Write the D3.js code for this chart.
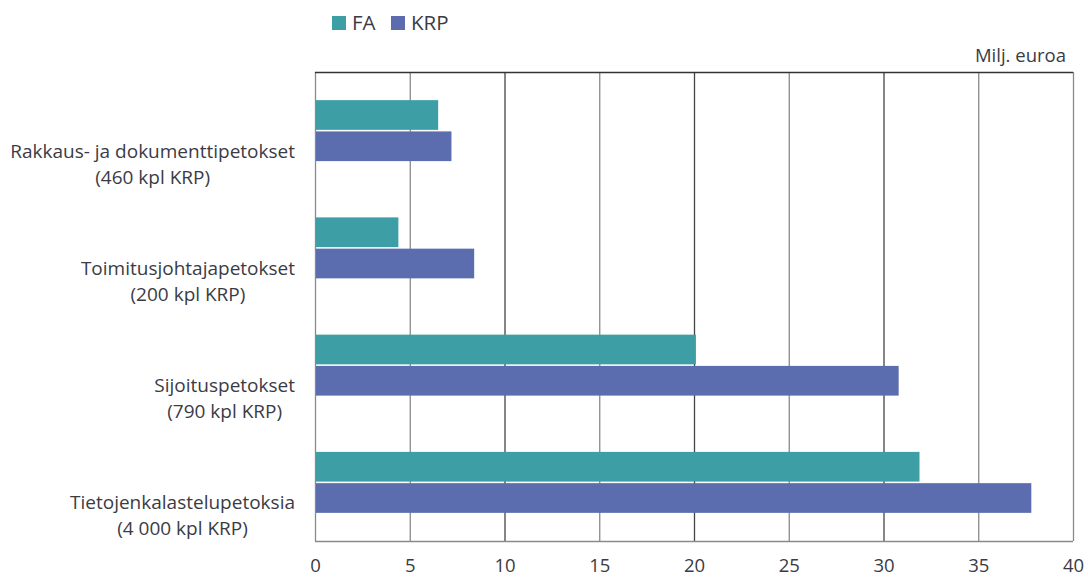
<!DOCTYPE html>
<html lang="fi">
<head>
<meta charset="utf-8">
<title>Petokset</title>
<script src="https://d3js.org/d3.v7.min.js"></script>
<style>
  body { margin: 0; background: #fff; }
  text { font-family: "Open Sans", sans-serif; fill: #3b3b45; }
</style>
</head>
<body>
<script>
// data
var categories = ["Rakkaus- ja dokumenttipetokset", "Toimitusjohtajapetokset", "Sijoituspetokset", "Tietojenkalastelupetoksia"];
var subLabels = ["(460 kpl KRP)", "(200 kpl KRP)", "(790 kpl KRP)", "(4 000 kpl KRP)"];
var series = ["FA", "KRP"];
var faValues = [6.5, 4.4, 20.1, 31.9];
var krpValues = [7.2, 8.4, 30.8, 37.8];
var xTicks = [0, 5, 10, 15, 20, 25, 30, 35, 40];
var colors = ["#3d9ea6", "#5b6dae"];

var W = 1088, H = 578;
var plotLeft = 315, plotRight = 1073, plotTop = 72, plotBottom = 541;

var svg = d3.select("body").append("svg")
  .attr("width", W).attr("height", H);

var x = d3.scaleLinear().domain([0, 40]).range([plotLeft, plotRight]);
var y = d3.scaleBand().domain(categories).range([plotTop, plotBottom])
  .paddingInner(0.48).paddingOuter(0.24);
var ySub = d3.scaleBand().domain(series).range([0, y.bandwidth()]).paddingInner(0.05);

// grid
svg.append("g").selectAll("line")
  .data(xTicks)
  .enter().append("line")
    .attr("x1", function(d) { return x(d) + 0.5; })
    .attr("x2", function(d) { return x(d) + 0.5; })
    .attr("y1", plotTop).attr("y2", plotBottom)
    .attr("stroke", function(d, i) { return i % 2 == 0 && d > 0 && d < 40 ? "#444" : "#8a8a8a"; })
    .attr("stroke-width", 1.3);

svg.append("line").attr("x1", plotLeft).attr("x2", plotRight)
  .attr("y1", plotTop + 0.5).attr("y2", plotTop + 0.5).attr("stroke", "#333").attr("stroke-width", 1.5);
svg.append("line").attr("x1", plotLeft).attr("x2", plotRight)
  .attr("y1", plotBottom + 0.5).attr("y2", plotBottom + 0.5).attr("stroke", "#8a8a8a").attr("stroke-width", 1.5);

// bars
var rows = categories.map(function(c, i) {
  return { cat: c, vals: [faValues[i], krpValues[i]] };
});
var g = svg.append("g").selectAll("g")
  .data(rows)
  .enter().append("g")
    .attr("transform", function(d) { return "translate(0," + y(d.cat) + ")"; });

g.selectAll("rect")
  .data(function(d) { return d.vals.map(function(v, j) { return { s: series[j], v: v, j: j }; }); })
  .enter().append("rect")
    .attr("x", x(0) + 1)
    .attr("y", function(d) { return ySub(d.s); })
    .attr("width", function(d) { return x(d.v) - x(0) - 1; })
    .attr("height", ySub.bandwidth())
    .attr("fill", function(d) { return colors[d.j]; });

// x axis labels
var xAxis = d3.axisBottom(x).tickValues(xTicks).tickSize(0).tickPadding(0);
var ax = svg.append("g").attr("transform", "translate(0," + plotBottom + ")").call(xAxis);
ax.select(".domain").remove();
ax.selectAll("text")
  .attr("y", 31).attr("dy", 0)
  .style("font-family", "'Open Sans', sans-serif")
  .style("font-size", "18.5px")
  .attr("fill", "#3b3b45");

// category labels
var labelRight = 295;
categories.forEach(function(c, i) {
  var cy = y(c) + y.bandwidth() / 2;
  var t = svg.append("text")
    .attr("text-anchor", "middle")
    .style("font-size", "19px");
  var t1 = t.append("tspan").text(c);
  var w = t1.node().getComputedTextLength();
  var cx = labelRight - w / 2;
  t1.attr("x", cx).attr("y", cy + 27);
  t.append("tspan").text(subLabels[i]).attr("x", cx).attr("y", cy + 53);
});

// legend
var leg = svg.append("g");
var legX = [332, 391];
series.forEach(function(s, i) {
  leg.append("rect").attr("x", legX[i]).attr("y", 16)
    .attr("width", 14).attr("height", 14).attr("fill", colors[i]);
  leg.append("text").attr("x", legX[i] + 20).attr("y", 30)
    .style("font-size", "20.5px").text(s);
});

svg.append("text").attr("x", 1066).attr("y", 62)
  .attr("text-anchor", "end").style("font-size", "18.5px").text("Milj. euroa");
</script>
</body>
</html>
